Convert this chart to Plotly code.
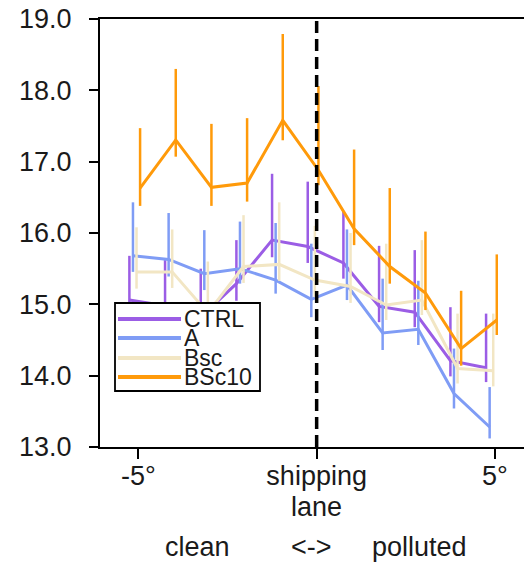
import plotly.graph_objects as go

# Distance from the shipping lane (degrees), negative = clean side
positions = [-5, -4, -3, -2, -1, 0, 1, 2, 3, 4, 5]
series_names = ["CTRL", "A", "Bsc", "BSc10"]

# Mean value and the upper / lower ends of each error bar
ctrl_mean = [15.06, 14.98, 14.82, 15.29, 15.90, 15.81, 15.58, 14.97, 14.89, 14.21, 14.11]
ctrl_high = [15.68, 15.62, 15.50, 15.90, 16.83, 16.72, 16.30, 15.82, 15.76, 14.96, 14.87]
ctrl_low = [14.84, 14.76, 14.60, 15.05, 15.66, 15.58, 15.36, 14.75, 14.68, 13.99, 13.91]

a_mean = [15.68, 15.63, 15.43, 15.50, 15.34, 15.07, 15.27, 14.60, 14.65, 13.75, 13.28]
a_high = [16.43, 16.28, 16.04, 16.16, 16.14, 15.85, 16.05, 15.36, 15.33, 14.38, 13.84]
a_low = [15.455, 15.39, 15.20, 15.29, 15.15, 14.82, 15.06, 14.36, 14.43, 13.54, 13.12]

bsc_mean = [15.455, 15.455, 14.88, 15.53, 15.56, 15.34, 15.25, 14.99, 15.06, 14.10, 14.07]
bsc_high = [16.08, 16.05, 15.60, 16.25, 16.43, 16.10, 16.00, 15.85, 15.90, 14.87, 14.87]
bsc_low = [15.22, 15.23, 14.66, 15.30, 15.33, 15.10, 15.02, 14.78, 14.85, 13.89, 13.85]

bsc10_mean = [16.63, 17.305, 16.64, 16.70, 17.58, 16.88, 16.06, 15.53, 15.16, 14.38, 14.78]
bsc10_high = [17.47, 18.30, 17.53, 17.61, 18.79, 18.06, 17.17, 16.63, 16.02, 15.19, 15.70]
bsc10_low = [16.38, 17.07, 16.38, 16.44, 17.30, 16.67, 15.83, 15.29, 14.92, 14.14, 14.57]

y_ticks = [13, 14, 15, 16, 17, 18, 19]
y_tick_labels = ["13.0", "14.0", "15.0", "16.0", "17.0", "18.0", "19.0"]
x_ticks = [-5, 0, 5]
x_tick_labels = ["-5°", "shipping", "5°"]
x_tick_second_line = "lane"

colors = ["#9b5de5", "#7f9cf5", "#f2e6c4", "#ff9a0a"]
x_shift = [-0.25, -0.15, -0.05, 0.05]

means = [ctrl_mean, a_mean, bsc_mean, bsc10_mean]
highs = [ctrl_high, a_high, bsc_high, bsc10_high]
lows = [ctrl_low, a_low, bsc_low, bsc10_low]

FONT = "Liberation Sans, Arial, sans-serif"
TEXT = "#1a1a1a"

W, H = 524, 565
ML, MR, MT, MB = 100, 0, 19, 118


def px_x(px):
    return (px - ML) / (W - ML - MR)


def px_y(py):
    return 1 - (py - MT) / (H - MT - MB)


fig = go.Figure()
for name, m, hi, lo, col, dx in zip(series_names, means, highs, lows, colors, x_shift):
    fig.add_trace(go.Scatter(
        x=[p + dx for p in positions],
        y=m,
        mode="lines",
        name=name,
        line=dict(color=col, width=3),
        error_y=dict(
            type="data",
            symmetric=False,
            array=[h - v for h, v in zip(hi, m)],
            arrayminus=[v - l for v, l in zip(m, lo)],
            color=col,
            thickness=2.5,
            width=0,
        ),
        showlegend=False,
    ))

shapes = [
    # shipping lane marker
    dict(type="line", xref="x", yref="paper", x0=0, x1=0, y0=0, y1=1,
         line=dict(color="black", width=3.5, dash="12px,6px"), layer="above"),
    # legend frame
    dict(type="rect", xref="paper", yref="paper",
         x0=px_x(115), x1=px_x(260), y0=px_y(391), y1=px_y(303),
         fillcolor="white", line=dict(color="black", width=1.8), layer="above"),
]
annotations = []
row_y = [319, 338, 358, 377]
for name, col, ry in zip(series_names, colors, row_y):
    shapes.append(dict(type="line", xref="paper", yref="paper",
                       x0=px_x(118), x1=px_x(181), y0=px_y(ry), y1=px_y(ry),
                       line=dict(color=col, width=4), layer="above"))
    annotations.append(dict(text=name, xref="paper", yref="paper",
                            x=px_x(182), y=px_y(ry), xanchor="left", yanchor="middle",
                            showarrow=False, font=dict(family=FONT, size=23, color=TEXT)))

# second line of the centre tick label
annotations.append(dict(text=x_tick_second_line, xref="x", yref="paper",
                        x=0, y=px_y(507), xanchor="center", yanchor="middle",
                        showarrow=False, font=dict(family=FONT, size=27, color=TEXT)))

for txt, cx in [("clean", 197), ("<->", 311.5), ("polluted", 419)]:
    annotations.append(dict(text=txt, xref="paper", yref="paper",
                            x=px_x(cx), y=px_y(547), xanchor="center", yanchor="middle",
                            showarrow=False, font=dict(family=FONT, size=27, color=TEXT)))

fig.update_layout(
    width=W, height=H,
    margin=dict(l=ML, r=MR, t=MT, b=MB),
    paper_bgcolor="white",
    plot_bgcolor="white",
    font=dict(family=FONT, size=27, color=TEXT),
    shapes=shapes,
    annotations=annotations,
    xaxis=dict(
        range=[-6.074, 5.813],
        tickvals=x_ticks, ticktext=x_tick_labels,
        ticks="outside", ticklen=10, tickwidth=2, tickcolor="black",
        showline=True, linecolor="black", linewidth=2, mirror=True,
        showgrid=False, zeroline=False,
        ticklabelstandoff=-6,
        tickfont=dict(family=FONT, size=27, color=TEXT),
    ),
    yaxis=dict(
        range=[13, 19],
        tickvals=y_ticks, ticktext=y_tick_labels,
        ticks="outside", ticklen=9, tickwidth=2, tickcolor="black",
        showline=True, linecolor="black", linewidth=2,
        showgrid=False, zeroline=False,
        ticklabelstandoff=12,
        tickfont=dict(family=FONT, size=27, color=TEXT),
    ),
)

fig.write_html("out.html")
